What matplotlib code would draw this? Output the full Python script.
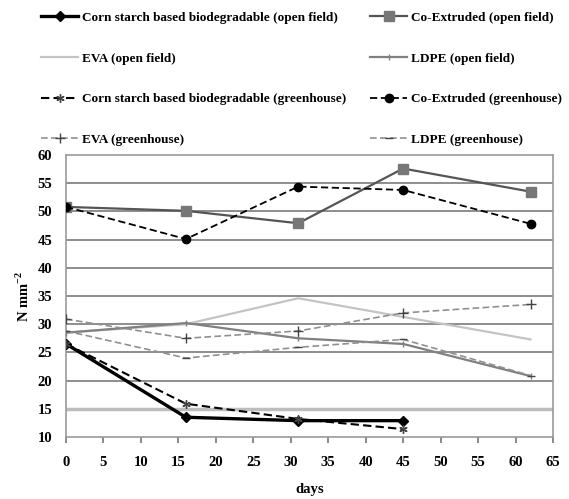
import matplotlib
matplotlib.use("Agg")
import matplotlib.pyplot as plt

days = [0, 16, 31, 45, 62]
days_corn = [0, 16, 31, 45]

corn_open = [26.5, 13.5, 12.9, 12.9]
coex_open = [50.8, 50.1, 47.9, 57.6, 53.5]
eva_open = [28.5, 30.0, 34.6, 31.3, 27.3]
ldpe_open = [28.5, 30.2, 27.5, 26.5, 20.8]
corn_gh = [26.5, 15.9, 13.2, 11.4]
coex_gh = [50.8, 45.1, 54.4, 53.8, 47.8]
eva_gh = [30.9, 27.5, 28.8, 32.0, 33.5]
ldpe_gh = [28.8, 24.0, 25.9, 27.3, 20.9]

labels = [
    "Corn starch based biodegradable (open field)",
    "Co-Extruded (open field)",
    "EVA (open field)",
    "LDPE (open field)",
    "Corn starch based biodegradable (greenhouse)",
    "Co-Extruded (greenhouse)",
    "EVA (greenhouse)",
    "LDPE (greenhouse)",
]

plt.rcParams['font.family'] = ['Liberation Serif', 'DejaVu Serif']
plt.rcParams['font.weight'] = 'bold'
plt.rcParams['mathtext.fontset'] = 'custom'
plt.rcParams['mathtext.rm'] = 'Liberation Serif:bold'
plt.rcParams['mathtext.bf'] = 'Liberation Serif:bold'

fig = plt.figure(figsize=(5.69, 4.99), dpi=100)
ax = fig.add_axes([66 / 569, 1 - 437 / 499, (553 - 66) / 569, (437 - 155) / 499])

dash = (0, (4, 2))
h = {}
h[0], = ax.plot(days_corn, corn_open, color='black', lw=2.4, marker='D', ms=5, zorder=5)
h[1], = ax.plot(days, coex_open, color='#555555', lw=1.6, marker='s', ms=7, mfc='#777777', mec='#777777', zorder=4)
h[2], = ax.plot(days, eva_open, color='#c4c4c4', lw=1.6, zorder=3)
h[3], = ax.plot(days, ldpe_open, color='#808080', lw=1.6, marker='|', ms=4, zorder=3)
h[4], = ax.plot(days_corn, corn_gh, color='black', lw=1.5, ls=dash, marker=(6, 2, 0), ms=6, mec='#444444', zorder=5)
h[5], = ax.plot(days, coex_gh, color='black', lw=1.3, ls=dash, marker='o', ms=6, zorder=4)
h[6], = ax.plot(days, eva_gh, color='#909090', lw=1.2, ls=dash, marker='+', ms=7, mec='#444444', zorder=3)
h[7], = ax.plot(days, ldpe_gh, color='#909090', lw=1.2, ls=dash, marker='_', ms=6, mec='#444444', zorder=3)

ax.set_xlim(0, 65)
ax.set_ylim(10, 60)
ax.set_xticks(range(0, 66, 5))
ax.set_yticks(range(10, 61, 5))
for yv in range(15, 60, 5):
    if yv == 15:
        ax.axhline(yv, color='#bdbdbd', lw=2.5, zorder=0)
    else:
        ax.axhline(yv, color='#7a7a7a', lw=1.2, zorder=0)
for s in ax.spines.values():
    s.set_color('#999999')
    s.set_linewidth(1.2)
ax.tick_params(axis='both', labelsize=10.5, color='#777777', length=4, width=1.2)
ax.tick_params(axis='x', pad=10)
ax.tick_params(axis='y', length=0, pad=10)
for lbl in ax.get_xticklabels() + ax.get_yticklabels():
    lbl.set_fontweight('bold')
ax.set_xlabel('days', fontsize=10.5, fontweight='bold', labelpad=10)
ax.set_ylabel('N mm$^{-2}$', fontsize=10.5, fontweight='bold', labelpad=4)

order = [0, 2, 4, 6, 1, 3, 5, 7]
fig.legend([h[i] for i in order], [labels[i] for i in order], ncol=2,
           loc='upper left', bbox_to_anchor=(0.052, 1.0), frameon=False,
           handlelength=2.8, handletextpad=0.3,
           labelspacing=2.15, columnspacing=1.8, prop={'weight': 'bold', 'size': 9.5})

fig.savefig('out.png', dpi=100)
